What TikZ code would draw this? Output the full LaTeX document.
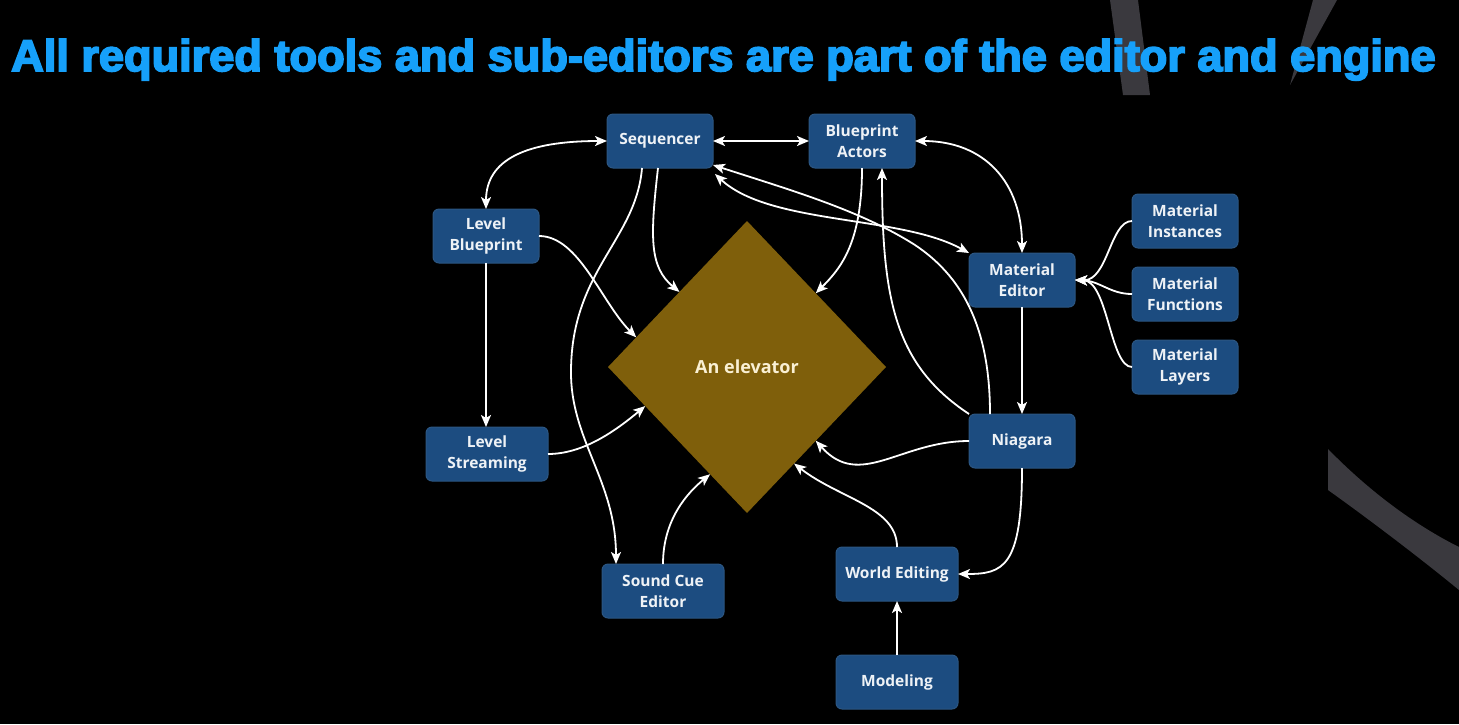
\documentclass[tikz,border=0pt]{standalone}
\usepackage{graphicx}
\usepackage{fontspec}
\setmainfont{Open Sans}
\newfontfamily\titlefont{Liberation Sans}
\usetikzlibrary{arrows.meta,shapes.geometric,calc}

\definecolor{bgstripe}{RGB}{58,57,62}
\definecolor{titleblue}{RGB}{22,160,250}
\definecolor{boxfill}{RGB}{28,76,128}
\definecolor{boxline}{RGB}{44,86,130}
\definecolor{elevfill}{RGB}{127,95,11}
\definecolor{elevtext}{RGB}{250,240,212}
\definecolor{boxtext}{RGB}{238,242,246}

% slightly heavier heading: fill and stroke the glyphs
\newcommand{\heavytext}[1]{\special{pdf:literal direct 2 Tr 0.4 w}#1\special{pdf:literal direct 0 Tr}}

\begin{document}
\begin{tikzpicture}[x=1pt,y=-1pt,
  >={Stealth[length=12pt,width=10pt,inset=3pt]},
  tool/.style={draw=boxline, line width=1pt, fill=boxfill, rounded corners=6pt,
    minimum width=106pt, minimum height=54pt, inner sep=0pt, outer sep=0pt,
    align=center, text=boxtext, font=\fontsize{15.5}{21}\selectfont\bfseries},
  widetool/.style={tool, minimum width=122pt},
  link/.style={draw=white, line width=1.8pt},
]
% canvas
\fill[black] (0,0) rectangle (1459,724);
\useasboundingbox (0,0) rectangle (1459,724);

% decorative background bands
\fill[bgstripe] (1110,0) -- (1138,0) -- (1150,95) -- (1123,95) -- cycle;
\fill[bgstripe] (1313,0) -- (1337,0) -- (1290,85) -- cycle;
\fill[bgstripe] (1328,449) -- (1328,490) .. controls (1370,520) and (1420,558) .. (1459,590)
  -- (1459,547) .. controls (1415,525) and (1370,492) .. cycle;

% heading
\node[anchor=base west, inner sep=0pt, text=titleblue] (title) at (11,71)
  {\resizebox{1424pt}{32pt}{\titlefont\bfseries\heavytext{All required tools and sub-editors are part of the editor and engine}}};

% central item
\node[shape=diamond, fill=elevfill, minimum width=278pt, minimum height=292pt,
  inner sep=0pt, outer sep=0pt, text=elevtext, font=\fontsize{18}{22}\selectfont\bfseries]
  (elev) at (747,367) {An elevator};

% tools
\node[tool] (seq) at (660,141) {Sequencer};
\node[tool] (ba) at (862,141) {Blueprint\\Actors};
\node[tool] (lb) at (486,236) {Level\\Blueprint};
\node[tool] (me) at (1022,280) {Material\\Editor};
\node[tool] (mi) at (1185,221) {Material\\Instances};
\node[tool] (mf) at (1185,294) {Material\\Functions};
\node[tool] (ml) at (1185,367) {Material\\Layers};
\node[widetool] (ls) at (487,454) {Level\\Streaming};
\node[tool] (nia) at (1022,441) {Niagara};
\node[widetool] (sc) at (663,591) {Sound Cue\\Editor};
\node[widetool] (we) at (897,574) {World Editing};
\node[widetool] (mod) at (897,682) {Modeling};

% connections
\draw[link,<->] (lb.north) .. controls +(0,-50) and +(-80,0) .. (seq.west);
\draw[link,<->] (seq.east) -- (ba.west);
\draw[link,<->] (ba.east) .. controls +(70,0) and +(0,-70) .. (me.north);
\draw[link,->] (lb.south) -- (lb.south |- ls.north);
\draw[link,->] (lb.east) .. controls +(40,0) and +(-35,-35) .. (elev.165);
\draw[link,->] ($(seq.south)+(-2,0)$) .. controls +(-8,70) and +(-30,-25) .. (elev.132);
\draw[link,->] ($(seq.south)+(-18,0)$) .. controls (636,240) and (572,270) .. (571,370)
  .. controls (570,440) and (616,480) .. ($(sc.north)+(-47,0)$);
\draw[link,->] (ba.south) .. controls +(0,75) and +(25,-25) .. (elev.47);
\draw[link,->] (nia.north west) .. controls (895,365) and (882,300) .. ($(ba.south)+(20,0)$);
\draw[link,->] ($(nia.north)+(-32,0)$) .. controls +(0,-90) and (960,275) .. (915,245)
  .. controls (860,210) and (790,190) .. ($(seq.south east)+(0,-3)$);
\draw[link,<->] ($(seq.south east)+(2,6)$) .. controls (770,225) and (900,215) .. (me.north west);
\draw[link,->] (me.south) -- (nia.north);
\draw[link,->] (mi.west) .. controls (1110,221) and (1108,281) .. (me.east);
\draw[link,->] (mf.west) .. controls (1110,294) and (1100,281) .. (me.east);
\draw[link,->] (ml.west) .. controls (1110,367) and (1108,281) .. (me.east);
\draw[link,->] (nia.west) .. controls (900,441) and (860,490) .. (elev.313);
\draw[link,->] (ls.east) .. controls +(35,0) and +(-30,25) .. (elev.201);
\draw[link,->] (sc.north) .. controls +(0,-45) and +(-22,18) .. (elev.251);
\draw[link,->] (we.north) .. controls +(0,-40) and +(45,35) .. (elev.296);
\draw[link,->] (nia.south) .. controls +(0,100) and +(45,0) .. (we.east);
\draw[link,->] (mod.north) -- (we.south);
\end{tikzpicture}
\end{document}
